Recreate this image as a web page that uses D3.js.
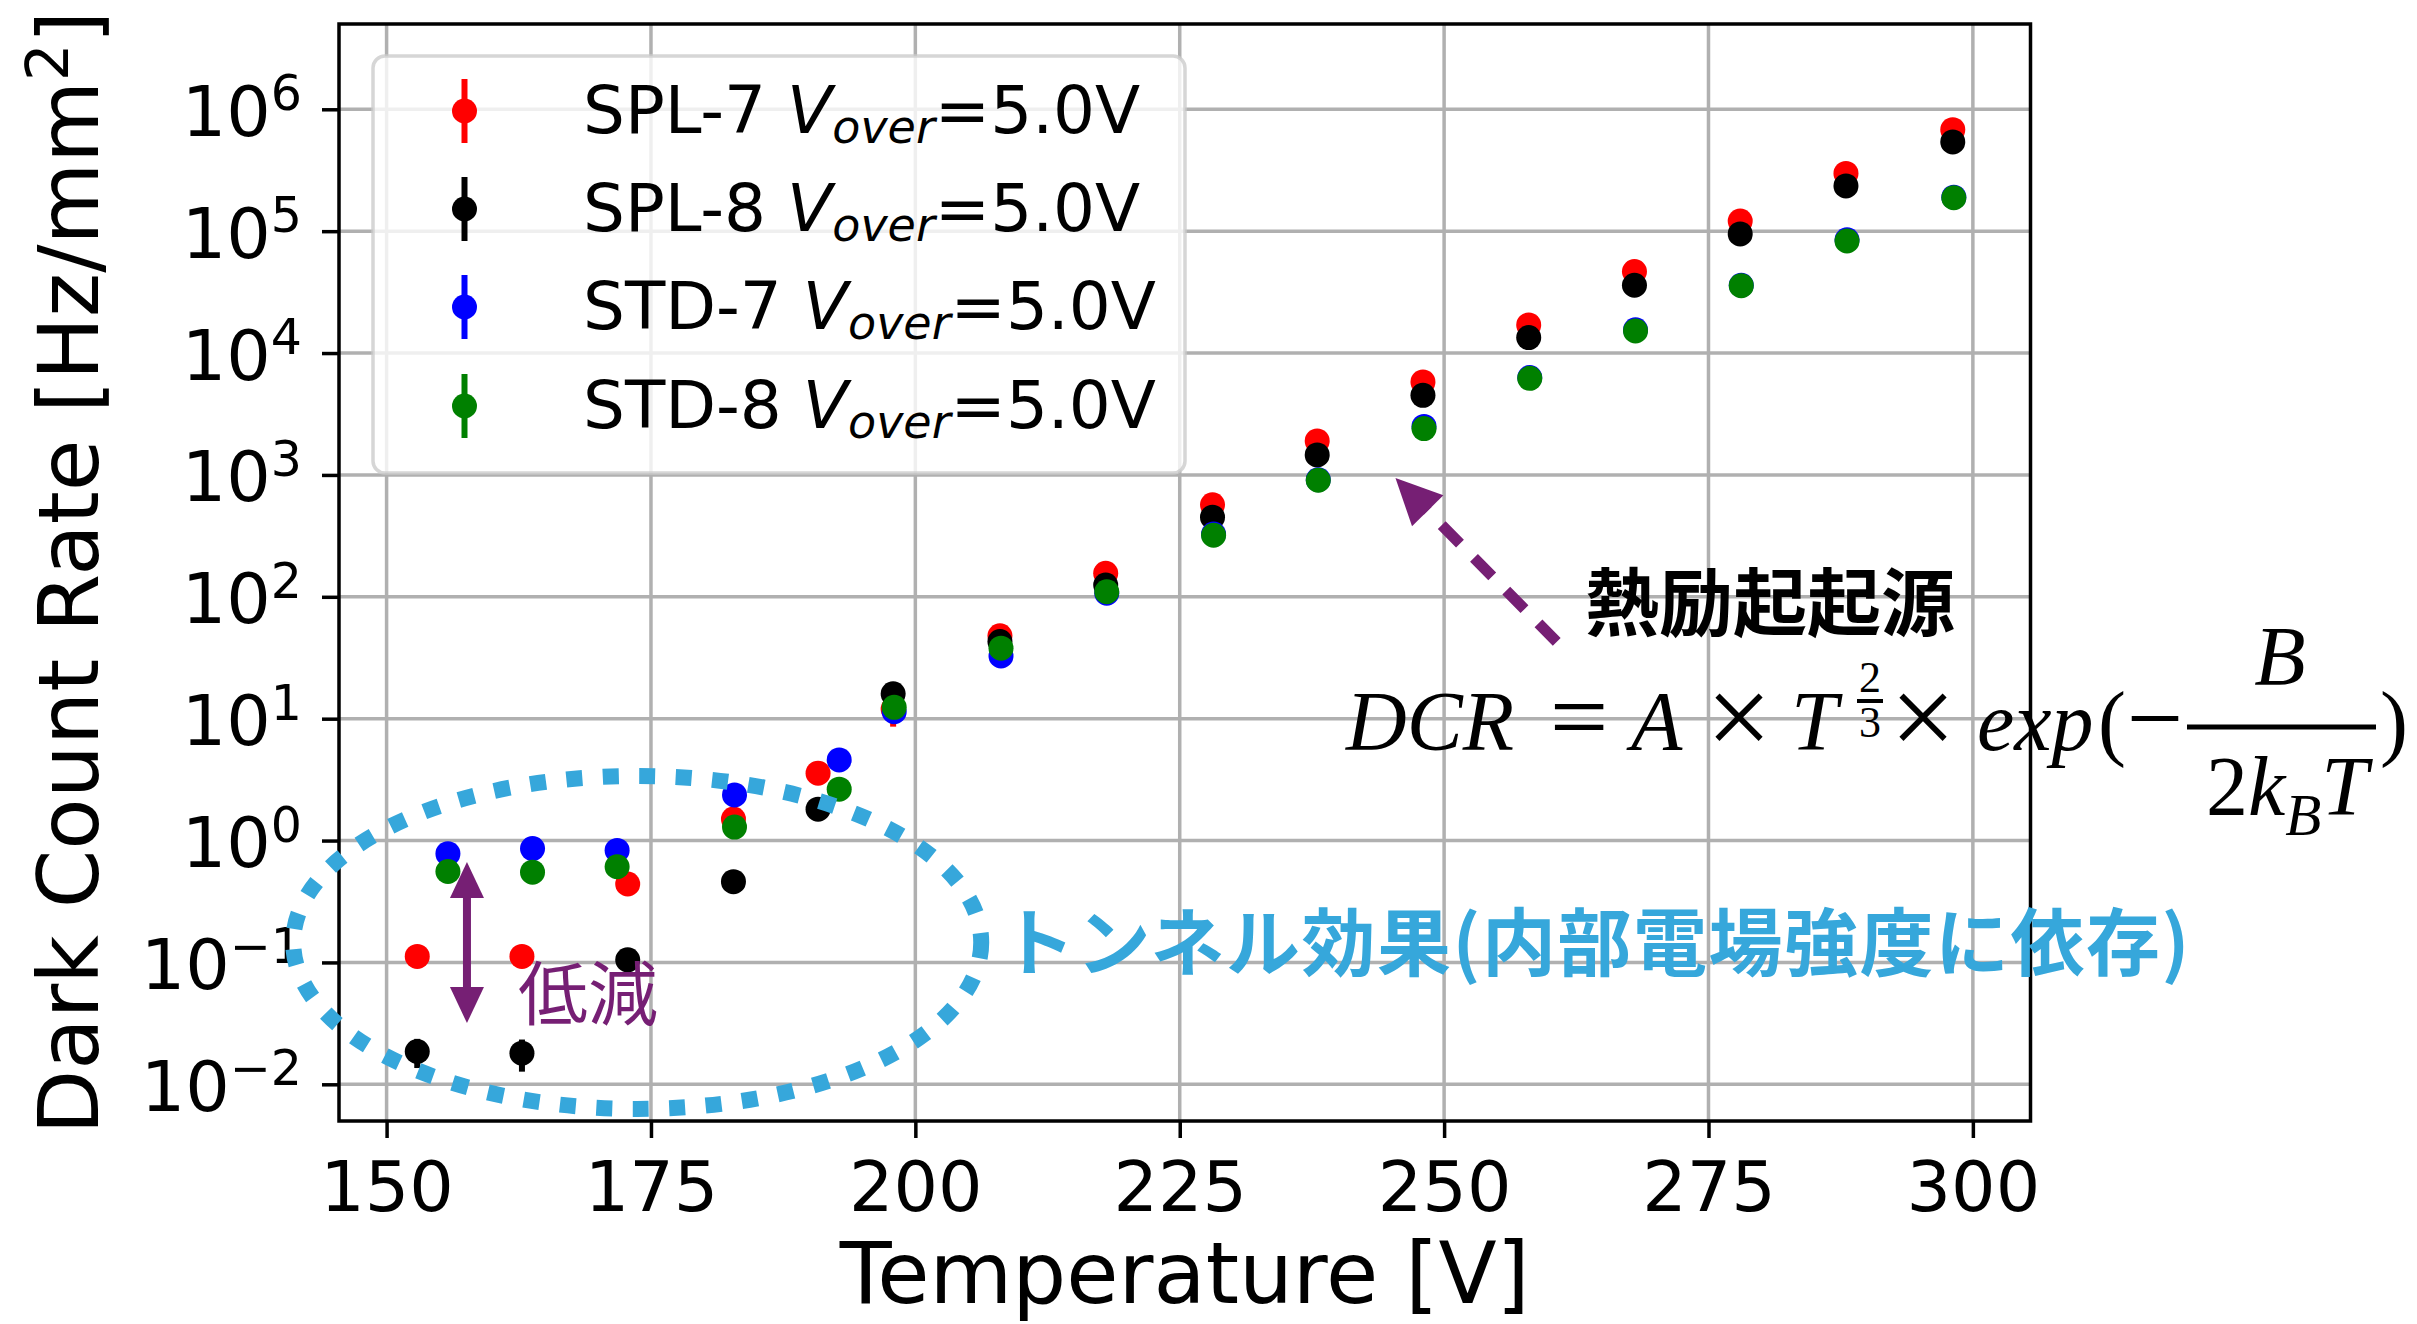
<!DOCTYPE html>
<html><head><meta charset="utf-8">
<script src="https://cdn.jsdelivr.net/npm/d3@7"></script>
<style>html,body{margin:0;padding:0;background:#fff;} svg{display:block;}</style>
</head><body>
<svg id="chart" width="2417" height="1324"></svg>
<script>
// ---------------- data ----------------
const seriesNames = ["SPL-7", "SPL-8", "STD-7", "STD-8"];
const seriesColors = ["red", "black", "blue", "green"];
const tempsSPL = [152.9,162.8,172.8,182.8,190.8,197.9,208.0,218.0,228.1,238.0,248.0,258.0,268.0,278.0,288.0,298.1];
const tempsSTD = [155.8,163.8,171.8,182.9,192.8,198.0,208.1,218.1,228.2,238.1,248.1,258.1,268.1,278.1,288.1,298.2];
const spl7 = [0.112,0.112,0.44,1.5,3.57,12,47.8,156,568,1900,5800,17000,46600,121000,298000,680000];
const spl7Err = [0.004,0.004,0.01,0.05,0.1,3.4,1.5,4,15,50,150,400,1000,2500,6000,15000];
const spl8 = [0.0186,0.018,0.105,0.46,1.81,16,43,125,450,1460,4500,13400,36000,95000,235000,540000];
const spl8Err = [0.005,0.0053,0.004,0.015,0.05,0.5,1.2,3.5,12,40,120,350,900,2200,5500,13000];
const std7 = [0.78,0.86,0.83,2.37,4.59,11.4,32.7,107,327,915,2500,6300,15500,36000,85000,190000];
const std7Err = [0.02,0.02,0.02,0.06,0.1,0.3,0.9,3,9,25,70,170,400,900,2100,4700];
const std8 = [0.557,0.55,0.61,1.29,2.64,12.4,37.9,110,320,904,2400,6200,15200,35700,83000,188000];
const std8Err = [0.02,0.02,0.02,0.04,0.07,0.3,1,3,9,25,65,165,400,900,2100,4700];
const xTicks = [150,175,200,225,250,275,300];
const yTickExps = [-2,-1,0,1,2,3,4,5,6];
const xLabel = "Temperature [V]";
const yLabel = "Dark Count Rate [Hz/mm";
const legendSuffix = "=5.0V";

const series = [
  {t: tempsSPL, v: spl7, e: spl7Err},
  {t: tempsSPL, v: spl8, e: spl8Err},
  {t: tempsSTD, v: std7, e: std7Err},
  {t: tempsSTD, v: std8, e: std8Err}
];

// ---------------- layout ----------------
const m = {left:339, right:2030.5, top:24, bottom:1121};
const x = d3.scaleLinear().domain([145.5,305.45]).range([m.left,m.right]);
const y = d3.scaleLog().domain([0.005,5.01e6]).range([m.bottom,m.top]);
const svg = d3.select("#chart");
const SANS = "'DejaVu Sans', sans-serif";
const CJK = "'Noto Sans CJK JP', sans-serif";
const SERIF = "'Liberation Serif', 'Times New Roman', serif";
const purple = "#761f74";
const cyan = "#36a7db";

// gridlines
const grid = svg.append("g");
grid.selectAll("line.vx").data(xTicks).enter().append("line")
  .attr("x1", d=>x(d)).attr("x2", d=>x(d)).attr("y1", m.top).attr("y2", m.bottom)
  .attr("stroke", "#b0b0b0").attr("stroke-width", 3.5);
grid.selectAll("line.hy").data(yTickExps).enter().append("line")
  .attr("y1", d=>y(Math.pow(10,d))).attr("y2", d=>y(Math.pow(10,d))).attr("x1", m.left).attr("x2", m.right)
  .attr("stroke", "#b0b0b0").attr("stroke-width", 3.5);

// data
series.forEach((s, i) => {
  const g = svg.append("g");
  const pts = s.t.map((t, k) => ({t, v: s.v[k], e: s.e[k]}));
  g.selectAll("line").data(pts).enter().append("line")
    .attr("x1", d=>x(d.t)).attr("x2", d=>x(d.t))
    .attr("y1", d=>y(d.v + d.e)).attr("y2", d=>y(Math.max(d.v - d.e, 1e-4)))
    .attr("stroke", seriesColors[i]).attr("stroke-width", 6);
  g.selectAll("circle").data(pts).enter().append("circle")
    .attr("cx", d=>x(d.t)).attr("cy", d=>y(d.v)).attr("r", 12.5)
    .attr("fill", seriesColors[i]);
});

// axes
const xAxis = svg.append("g").attr("transform", `translate(0,${m.bottom})`)
  .call(d3.axisBottom(x).tickValues(xTicks).tickSize(17).tickSizeOuter(0).tickFormat(d3.format("d")));
xAxis.select(".domain").remove();
xAxis.selectAll(".tick line").attr("stroke", "#000").attr("stroke-width", 3.5);
xAxis.selectAll(".tick text").attr("font-family", SANS).attr("font-size", 70)
  .attr("fill", "#000").attr("y", 90).attr("dy", null);

const yAxis = svg.append("g").attr("transform", `translate(${m.left},0)`)
  .call(d3.axisLeft(y).tickValues(yTickExps.map(e=>Math.pow(10,e))).tickSize(17).tickSizeOuter(0).tickFormat(""));
yAxis.select(".domain").remove();
yAxis.selectAll(".tick line").attr("stroke", "#000").attr("stroke-width", 3.5);
yAxis.selectAll(".tick text").remove();

const yl = svg.append("g");
yTickExps.forEach(e => {
  const t = yl.append("text").attr("x", 302).attr("y", y(Math.pow(10,e)) + 26.5)
    .attr("text-anchor", "end").attr("font-family", SANS).attr("font-size", 70).attr("fill", "#000");
  t.append("tspan").text("10");
  t.append("tspan").attr("font-size", 49).attr("dy", -25.5).text(e < 0 ? "\u2212" + Math.abs(e) : String(e));
});

// spines
svg.append("rect").attr("x", m.left).attr("y", m.top).attr("width", m.right - m.left).attr("height", m.bottom - m.top)
  .attr("fill", "none").attr("stroke", "#000").attr("stroke-width", 3.5);

// axis labels
svg.append("text").attr("x", (m.left+m.right)/2).attr("y", 1303).attr("text-anchor", "middle")
  .attr("font-family", SANS).attr("font-size", 85).attr("fill", "#000").text(xLabel);
const ylab = svg.append("text").attr("transform", `translate(98,${(m.top+m.bottom)/2}) rotate(-90)`)
  .attr("text-anchor", "middle").attr("font-family", SANS).attr("font-size", 84).attr("fill", "#000");
ylab.append("tspan").text(yLabel);
ylab.append("tspan").attr("font-size", 59).attr("dy", -30).text("2");
ylab.append("tspan").attr("dy", 30).text("]");

// tunnel-effect ellipse
const ec = {t: 173.7, v: 0.146};
svg.append("ellipse").attr("cx", x(ec.t)).attr("cy", y(ec.v)).attr("rx", 344).attr("ry", 166.5)
  .attr("fill", "none").attr("stroke", cyan).attr("stroke-width", 16).attr("stroke-dasharray", "16 20.5");

// reduction double arrow
const ra = {t: 157.6, top: 0.667, bot: 0.0318};
function head(g, tipX, tipY, dirX, dirY, len, wid, color) {
  const bx = tipX - dirX*len, by = tipY - dirY*len;
  const px = -dirY, py = dirX;
  g.append("path").attr("d", `M${tipX},${tipY}L${bx+px*wid/2},${by+py*wid/2}L${bx-px*wid/2},${by-py*wid/2}Z`)
    .attr("fill", color);
}
const rag = svg.append("g");
const rx0 = x(ra.t), ry0 = y(ra.top), ry1 = y(ra.bot);
rag.append("line").attr("x1", rx0).attr("x2", rx0).attr("y1", ry0 + 30).attr("y2", ry1 - 30)
  .attr("stroke", purple).attr("stroke-width", 8);
head(rag, rx0, ry0, 0, -1, 36, 34, purple);
head(rag, rx0, ry1, 0, 1, 36, 34, purple);
svg.append("text").attr("x", 518).attr("y", 1020).attr("font-family", CJK).attr("font-size", 70)
  .attr("fill", purple).text("低減");

// thermal arrow (dashed)
const ta = {tipT: 245.4, tipV: 944, tailT: 260.65, tailV: 42.6};
const tx0 = x(ta.tailT), ty0 = y(ta.tailV), tx1 = x(ta.tipT), ty1 = y(ta.tipV);
const L = Math.hypot(tx1-tx0, ty1-ty0), ux = (tx1-tx0)/L, uy = (ty1-ty0)/L;
const tag = svg.append("g");
tag.append("line").attr("x1", tx0).attr("y1", ty0).attr("x2", tx1 - ux*40).attr("y2", ty1 - uy*40)
  .attr("stroke", purple).attr("stroke-width", 11).attr("stroke-dasharray", "26 20");
head(tag, tx1, ty1, ux, uy, 46, 44, purple);
svg.append("text").attr("x", 1585).attr("y", 630).attr("font-family", CJK).attr("font-weight", 700)
  .attr("font-size", 74).attr("fill", "#000").text("熱励起起源");

// tunnel effect text
svg.append("text").attr("x", 1001).attr("y", 970).attr("font-family", CJK).attr("font-weight", 700)
  .attr("font-size", 74).attr("letter-spacing", 1.5).attr("fill", cyan).text("トンネル効果(内部電場強度に依存)");

// formula
const fg = svg.append("g").attr("font-family", SERIF).attr("fill", "#000");
function ft(xp, yp, s, size, italic, anchor) {
  fg.append("text").attr("x", xp).attr("y", yp).attr("font-size", size)
    .attr("font-style", italic ? "italic" : "normal").attr("text-anchor", anchor || "start").text(s);
}
ft(1346, 750, "DCR", 84, true);
ft(1579, 752, "=", 104, false, "middle");
ft(1631, 750, "A", 84, true);
ft(1739, 756, "×", 116, false, "middle");
ft(1791, 750, "T", 84, true);
ft(1870, 692, "2", 44, false, "middle");
fg.append("line").attr("x1", 1857).attr("x2", 1883).attr("y1", 701).attr("y2", 701).attr("stroke", "#000").attr("stroke-width", 4);
ft(1870, 737, "3", 44, false, "middle");
ft(1923, 756, "×", 116, false, "middle");
ft(1977, 750, "exp", 84, true);
ft(2098, 750, "(", 84, false);
ft(2155, 752, "\u2212", 100, false, "middle");
fg.append("line").attr("x1", 2187).attr("x2", 2376).attr("y1", 727).attr("y2", 727).attr("stroke", "#000").attr("stroke-width", 5);
ft(2280, 685, "B", 84, true, "middle");
const den = fg.append("text").attr("x", 2287).attr("y", 815).attr("font-size", 84).attr("text-anchor", "middle");
den.append("tspan").text("2");
den.append("tspan").attr("font-style", "italic").text("k");
den.append("tspan").attr("font-style", "italic").attr("font-size", 59).attr("dy", 20).text("B");
den.append("tspan").attr("font-style", "italic").attr("dy", -20).text("T");
ft(2380, 750, ")", 84, false);

// legend
const lg = svg.append("g");
lg.append("rect").attr("x", 373).attr("y", 56).attr("width", 812).attr("height", 417).attr("rx", 12)
  .attr("fill", "#fff").attr("fill-opacity", 0.8).attr("stroke", "#cccccc").attr("stroke-opacity", 0.8).attr("stroke-width", 3.5);
const rowY = [111, 209, 307, 406];
seriesNames.forEach((n, i) => {
  const cy = rowY[i];
  lg.append("line").attr("x1", 464.5).attr("x2", 464.5).attr("y1", cy - 32).attr("y2", cy + 32)
    .attr("stroke", seriesColors[i]).attr("stroke-width", 6);
  lg.append("circle").attr("cx", 464.5).attr("cy", cy).attr("r", 12.5).attr("fill", seriesColors[i]);
  const t = lg.append("text").attr("x", 583).attr("y", cy + 22).attr("font-family", SANS).attr("font-size", 66)
    .attr("fill", "#000").style("white-space", "pre");
  t.append("tspan").text(n + " ");
  t.append("tspan").attr("font-style", "italic").text("V");
  t.append("tspan").attr("font-style", "italic").attr("font-size", 46).attr("dy", 10).text("over");
  t.append("tspan").attr("dy", -10).text(legendSuffix);
});
</script>
</body></html>
